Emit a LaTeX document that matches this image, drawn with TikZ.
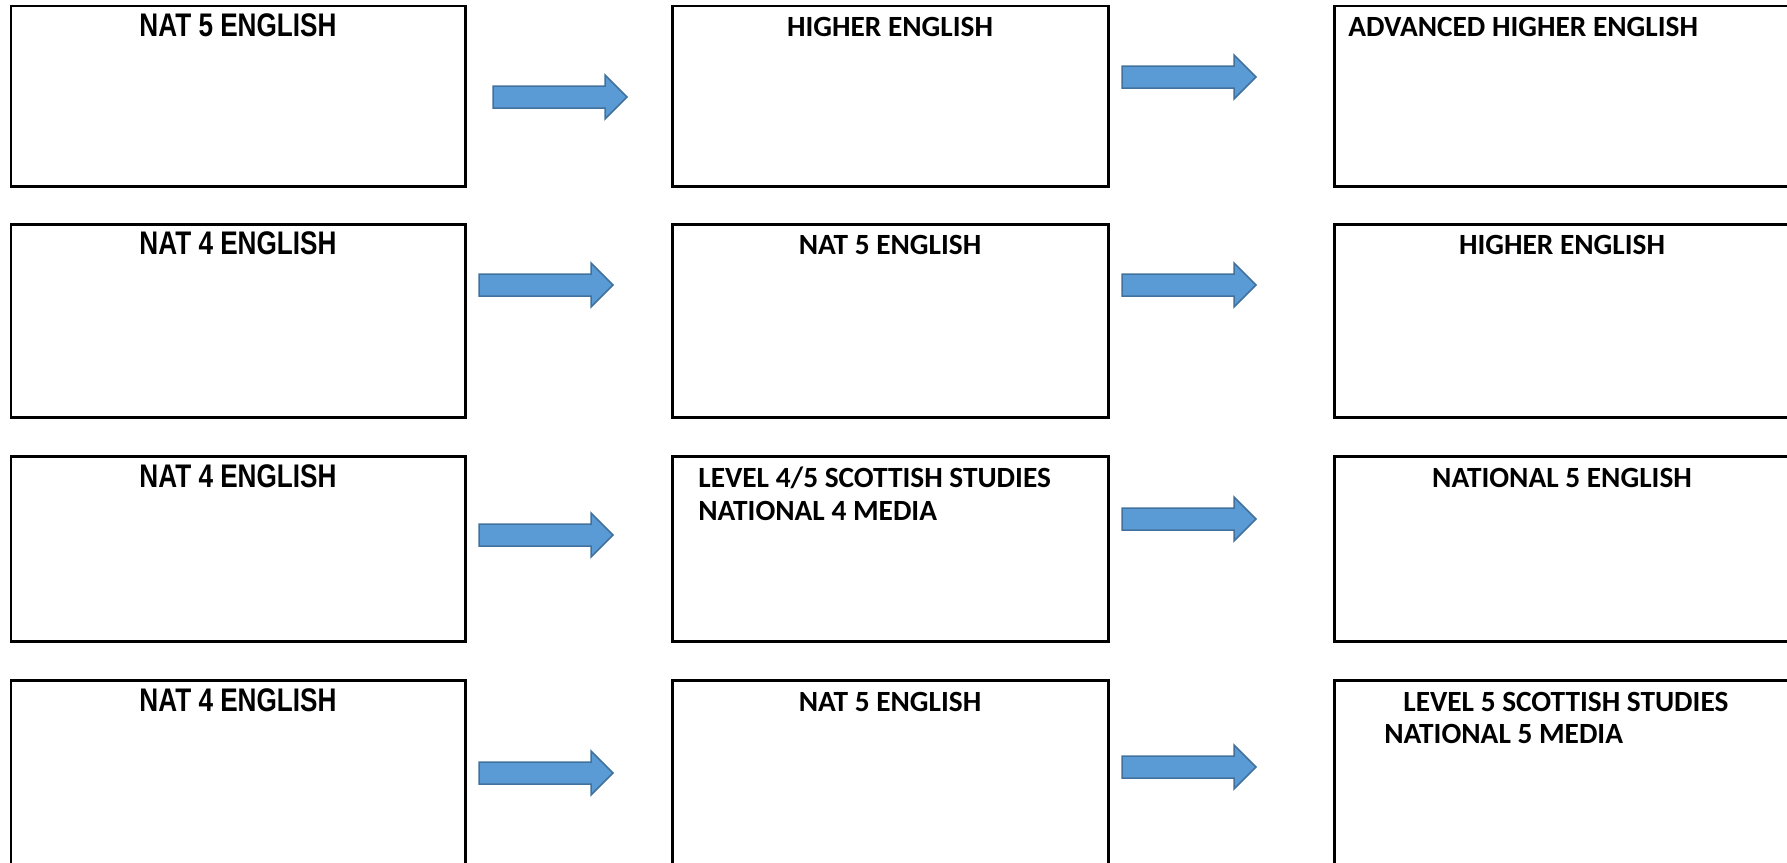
\documentclass[tikz,border=0pt]{standalone}
\usepackage{fontspec}
\setmainfont{Carlito}
\newfontfamily\narrowfont[FakeStretch=0.8]{Liberation Sans}
\definecolor{arrowfill}{HTML}{5B9BD5}
\definecolor{arrowline}{HTML}{41719C}
\tikzset{
box/.style 2 args={draw,line width=0.06cm,minimum width={#1*0.02cm},minimum height={#2*0.02cm},anchor=north west,inner sep=0pt,outer sep=0pt},
narrowtitle/.style={font=\narrowfont\bfseries\fontsize{18.6}{20}\selectfont,anchor=base,inner sep=0pt},
title/.style={font=\bfseries\fontsize{16.7}{20}\selectfont,anchor=base,inner sep=0pt},
blockarrow/.style={fill=arrowfill,draw=arrowline,line width=0.03cm,line join=miter}
}
\newcommand{\bluearrow}[2]{\draw[blockarrow](#1,#2)++(0,-11)--++(112,0)--++(0,-11)--++(22,22)--++(-22,22)--++(0,-11)--++(-112,0)--cycle;}
\begin{document}
\begin{tikzpicture}[x=0.02cm,y=-0.02cm]
\useasboundingbox(0,0)rectangle(1787,862);
\clip(0,0)rectangle(1787,862);
% boxes
\node[box={454}{180}](b11)at(11,6){};
\node[box={436}{180}](b12)at(672,6){};
\node[box={456}{180}](b13)at(1334,6){};
\node[box={454}{193}](b21)at(11,224){};
\node[box={436}{193}](b22)at(672,224){};
\node[box={456}{193}](b23)at(1334,224){};
\node[box={454}{185}](b31)at(11,456){};
\node[box={436}{185}](b32)at(672,456){};
\node[box={456}{185}](b33)at(1334,456){};
\node[box={454}{230}](b41)at(11,680){};
\node[box={436}{230}](b42)at(672,680){};
\node[box={456}{230}](b43)at(1334,680){};
% titles
\node[narrowtitle](t11)at([yshift=-0.62cm]b11.north){NAT 5 ENGLISH};
\node[title](t12)at([yshift=-0.62cm]b12.north){HIGHER ENGLISH};
\node[title,anchor=base west](t13)at([xshift=0.28cm,yshift=-0.62cm]b13.north west){ADVANCED HIGHER ENGLISH};
\node[narrowtitle](t21)at([yshift=-0.62cm]b21.north){NAT 4 ENGLISH};
\node[title](t22)at([yshift=-0.62cm]b22.north){NAT 5 ENGLISH};
\node[title](t23)at([yshift=-0.62cm]b23.north){HIGHER ENGLISH};
\node[narrowtitle](t31)at([yshift=-0.62cm]b31.north){NAT 4 ENGLISH};
\node[title,anchor=base west](t32)at([xshift=0.52cm,yshift=-0.62cm]b32.north west){LEVEL 4/5 SCOTTISH STUDIES};
\node[title,anchor=base west](t32b)at([yshift=-0.67cm]t32.base west){NATIONAL 4 MEDIA};
\node[title](t33)at([yshift=-0.62cm]b33.north){NATIONAL 5 ENGLISH};
\node[narrowtitle](t41)at([yshift=-0.62cm]b41.north){NAT 4 ENGLISH};
\node[title](t42)at([yshift=-0.62cm]b42.north){NAT 5 ENGLISH};
\node[title,anchor=base west](t43)at([xshift=1.38cm,yshift=-0.62cm]b43.north west){LEVEL 5 SCOTTISH STUDIES};
\node[title,anchor=base west](t43b)at([xshift=-0.38cm,yshift=-0.66cm]t43.base west){NATIONAL 5 MEDIA};
% arrows
\bluearrow{493}{97}
\bluearrow{1122}{77}
\bluearrow{479}{285}
\bluearrow{1122}{285}
\bluearrow{479}{535}
\bluearrow{1122}{519}
\bluearrow{479}{773}
\bluearrow{1122}{767}
\end{tikzpicture}
\end{document}
